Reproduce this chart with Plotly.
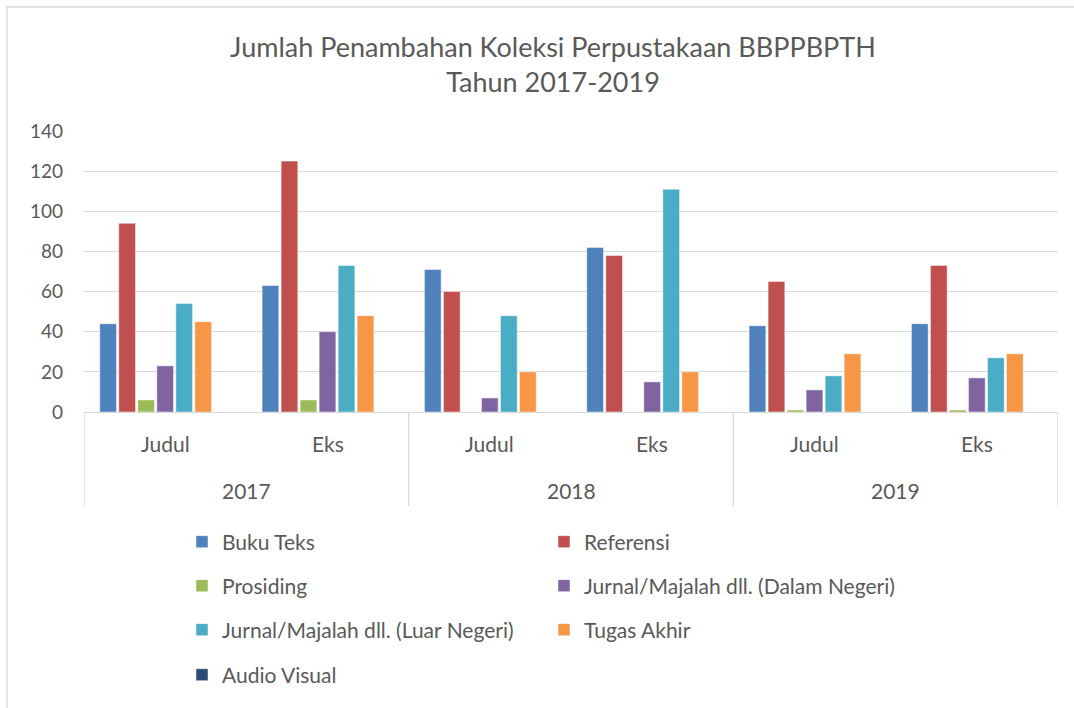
import plotly.graph_objects as go

categories = ["2017 Judul", "2017 Eks", "2018 Judul", "2018 Eks", "2019 Judul", "2019 Eks"]
sub_labels = ["Judul", "Eks", "Judul", "Eks", "Judul", "Eks"]
years = ["2017", "2018", "2019"]

buku_teks = [44, 63, 71, 82, 43, 44]
referensi = [94, 125, 60, 78, 65, 73]
prosiding = [6, 6, 0, 0, 1, 1]
jurnal_dn = [23, 40, 7, 15, 11, 17]
jurnal_ln = [54, 73, 48, 111, 18, 27]
tugas_akhir = [45, 48, 20, 20, 29, 29]
audio_visual = [0, 0, 0, 0, 0, 0]

series = [
    ("Buku Teks", buku_teks, "#4F81BD", "legend"),
    ("Referensi", referensi, "#C0504D", "legend"),
    ("Prosiding", prosiding, "#9BBB59", "legend2"),
    ("Jurnal/Majalah dll. (Dalam Negeri)", jurnal_dn, "#8064A2", "legend2"),
    ("Jurnal/Majalah dll. (Luar Negeri)", jurnal_ln, "#4BACC6", "legend3"),
    ("Tugas Akhir", tugas_akhir, "#F79646", "legend3"),
    ("Audio Visual", audio_visual, "#2C4D75", "legend4"),
]

FONT = "Lato"
TXT = "#595959"
GRID = "#D9D9D9"

fig = go.Figure()
for name, vals, color, lg in series:
    fig.add_trace(go.Bar(
        x=categories, y=vals, name=name, legend=lg,
        marker=dict(color=color, line=dict(color="rgba(255,255,255,0.6)", width=0.8)),
    ))

# plot geometry (pixels)
W, H = 1074, 708
L, R, T, B = 84, 16, 131, 296
PW, PH = W - L - R, H - T - B

def px_to_py(py):
    return (H - B - py) / PH

def px_to_px(px):
    return (px - L) / PW

annotations = []
for i, lab in enumerate(sub_labels):
    annotations.append(dict(x=i, y=0, xref="x", yref="paper", text=lab, showarrow=False,
                            yanchor="middle", yshift=-31, font=dict(family=FONT, size=21, color=TXT)))
for j, yr in enumerate(years):
    annotations.append(dict(x=2 * j + 0.5, y=0, xref="x", yref="paper", text=yr, showarrow=False,
                            yanchor="middle", yshift=-78, font=dict(family=FONT, size=21, color=TXT)))

shapes = []
for xb in [-0.5, 1.5, 3.5, 5.5]:
    shapes.append(dict(type="line", xref="x", yref="paper", x0=xb, x1=xb,
                       y0=0, y1=px_to_py(506), line=dict(color=GRID, width=1.3)))
# outer chart border
shapes.append(dict(type="rect", xref="paper", yref="paper",
                   x0=px_to_px(7), x1=px_to_px(1090), y0=px_to_py(7), y1=px_to_py(730),
                   line=dict(color=GRID, width=1.3), fillcolor="rgba(0,0,0,0)", layer="below"))

legend_common = dict(orientation="h", entrywidth=317, entrywidthmode="pixels",
                     xanchor="left", yanchor="middle", bgcolor="rgba(0,0,0,0)",
                     font=dict(family=FONT, size=21, color=TXT), itemclick=False)
lx = px_to_px(182)

fig.update_layout(
    width=W, height=H,
    margin=dict(l=L, r=R, t=T, b=B),
    paper_bgcolor="white", plot_bgcolor="white",
    title=dict(text="Jumlah Penambahan Koleksi Perpustakaan BBPPBPTH<br>Tahun 2017-2019",
               x=553 / W, xanchor="center", y=1 - 57 / H, yanchor="middle",
               font=dict(family=FONT, size=27, color=TXT)),
    barmode="group", bargap=0.18, bargroupgap=0.12,
    xaxis=dict(type="category", range=[-0.5, 5.5], showticklabels=False, showgrid=False,
               showline=True, linecolor=GRID, linewidth=1.3, zeroline=False, ticks=""),
    yaxis=dict(range=[0, 140], dtick=20, showgrid=True, gridcolor=GRID, gridwidth=1.3,
               zeroline=False, showline=False, ticklabelstandoff=20,
               tickfont=dict(family=FONT, size=19, color=TXT)),
    legend=dict(x=lx, y=px_to_py(542), **legend_common),
    legend2=dict(x=lx, y=px_to_py(586), **legend_common),
    legend3=dict(x=lx, y=px_to_py(630), **legend_common),
    legend4=dict(x=lx, y=px_to_py(675), **legend_common),
    annotations=annotations,
    shapes=shapes,
    showlegend=True,
)

fig.write_html("out.html", config={"displayModeBar": False},
               post_script="document.body.style.margin='0';")
